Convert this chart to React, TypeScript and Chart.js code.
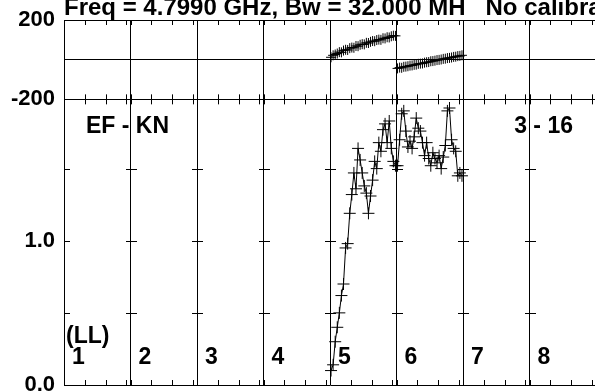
import React, { useEffect, useRef } from 'react';
import { Chart, registerables } from 'chart.js';

Chart.register(...registerables);

// ---- text ----
const TITLE = 'Freq = 4.7990 GHz, Bw = 32.000 MH   No calibra';
const BASELINE_LABEL = 'EF - KN';
const TIME_LABEL = '3 - 16';
const POL_LABEL = '(LL)';
const CHANNEL_LABELS = ['1', '2', '3', '4', '5', '6', '7', '8'];

// ---- axes ----
const CHANNEL_WIDTH_MHZ = 32;
const MINOR_TICK_MHZ = [0, 10, 20, 30];
const PHASE_TICKS = [-200, 0, 200];
const PHASE_TICK_LABELS = ['-200', '', '200'];
const AMP_TICKS = [0, 0.5, 1.0, 1.5];
const AMP_TICK_LABELS = ['0.0', '', '1.0', ''];
const PHASE_MIN = -200;
const PHASE_MAX = 200;
const AMP_MIN = 0;
const AMP_MAX = 1.98;

// ---- data (IF 5 and IF 6, 32 spectral points each) ----
const CH5_INDEX = 4;
const CH6_INDEX = 5;
const CH5_AMP = [
  0.1, 0.14, 0.3, 0.4, 0.5, 0.62, 0.7, 0.95, 0.98, 1.19, 1.32, 1.47, 1.36, 1.64, 1.56, 1.47,
  1.38, 1.33, 1.19, 1.31, 1.42, 1.55, 1.5, 1.68, 1.62, 1.77, 1.81, 1.68, 1.83, 1.64, 1.55, 1.52,
];
const CH6_AMP = [
  1.52, 1.7, 1.88, 1.9, 1.76, 1.65, 1.69, 1.64, 1.72, 1.85, 1.78, 1.76, 1.68, 1.59, 1.68, 1.57,
  1.52, 1.61, 1.57, 1.54, 1.59, 1.5, 1.58, 1.66, 1.9, 1.92, 1.7, 1.64, 1.62, 1.45, 1.47, 1.45,
];
const CH5_PHASE = [
  12, 22, 26, 31, 38, 37, 46, 50, 49, 58, 61, 60, 69, 68, 75, 78,
  77, 85, 84, 90, 94, 93, 99, 101, 100, 108, 107, 113, 112, 118, 121, 120,
];
const CH6_PHASE = [
  -44, -40, -41, -36, -35, -33, -30, -29, -26, -25, -21, -20, -19, -15, -13, -12,
  -8, -7, -5, -2, -1, 1, 4, 5, 8, 9, 11, 14, 15, 18, 19, 22,
];

const FONT_FAMILY = '"Liberation Sans", Arial, Helvetica, sans-serif';

function toPoints(chIndex: number, values: number[]) {
  return values.map((v, i) => ({ x: chIndex * CHANNEL_WIDTH_MHZ + i + 0.5, y: v }));
}

const overlayPlugin = {
  id: 'overlay',
  afterDraw(chart: any) {
    const ctx = chart.ctx as CanvasRenderingContext2D;
    const xs = chart.scales.x;
    const yP = chart.scales.yPhase;
    const yA = chart.scales.yAmp;
    const top = yP.top;
    const mid = yP.bottom;
    const bottom = yA.bottom;
    const nCh = CHANNEL_LABELS.length;
    ctx.save();
    ctx.strokeStyle = '#000';
    ctx.lineWidth = 1;
    ctx.beginPath();
    for (let c = 0; c < nCh; c++) {
      for (const m of MINOR_TICK_MHZ) {
        const px = Math.round(xs.getPixelForValue(c * CHANNEL_WIDTH_MHZ + m)) + 0.5;
        ctx.moveTo(px, top);
        ctx.lineTo(px, top + 5);
        ctx.moveTo(px, mid - 5);
        ctx.lineTo(px, mid + 5);
        ctx.moveTo(px, bottom - 5);
        ctx.lineTo(px, bottom);
      }
    }
    for (const v of AMP_TICKS) {
      if (v === 0) continue;
      const py = Math.round(yA.getPixelForValue(v)) + 0.5;
      for (let c = 0; c < nCh; c++) {
        const px = Math.round(xs.getPixelForValue(c * CHANNEL_WIDTH_MHZ));
        ctx.moveTo(c === 0 ? px : px - 5, py);
        ctx.lineTo(px + 6, py);
      }
    }
    ctx.stroke();

    ctx.fillStyle = '#000';
    ctx.textBaseline = 'alphabetic';
    ctx.textAlign = 'left';
    ctx.font = `bold 24px ${FONT_FAMILY}`;
    ctx.fillText(TITLE, chart.chartArea.left, 15);

    ctx.font = `bold 23px ${FONT_FAMILY}`;
    ctx.fillText(BASELINE_LABEL, chart.chartArea.left + 22, mid + 34);
    ctx.textAlign = 'right';
    ctx.fillText(TIME_LABEL, chart.chartArea.right - 23, mid + 34);
    ctx.textAlign = 'left';
    ctx.fillText(POL_LABEL, chart.chartArea.left + 2, bottom - 42);
    CHANNEL_LABELS.forEach((lab, c) => {
      const px = xs.getPixelForValue(c * CHANNEL_WIDTH_MHZ);
      ctx.fillText(lab, px + 8, bottom - 21);
    });
    ctx.restore();
  },
};

export default function App() {
  const ref = useRef<HTMLCanvasElement | null>(null);

  useEffect(() => {
    if (!ref.current) return;
    const crossStyle = {
      borderColor: '#000',
      borderWidth: 1,
      pointStyle: 'cross' as const,
      pointBorderColor: '#000',
      pointBorderWidth: 1,
      showLine: true,
      tension: 0,
    };
    const tickFont = { family: FONT_FAMILY, size: 22, weight: 'bold' as const };
    const chart = new Chart(ref.current, {
      type: 'scatter',
      data: {
        datasets: [
          { ...crossStyle, pointRadius: 6, data: toPoints(CH5_INDEX, CH5_AMP), xAxisID: 'x', yAxisID: 'yAmp' },
          { ...crossStyle, pointRadius: 6, data: toPoints(CH6_INDEX, CH6_AMP), xAxisID: 'x', yAxisID: 'yAmp' },
          { ...crossStyle, pointRadius: 5, data: toPoints(CH5_INDEX, CH5_PHASE), xAxisID: 'x', yAxisID: 'yPhase' },
          { ...crossStyle, pointRadius: 5, data: toPoints(CH6_INDEX, CH6_PHASE), xAxisID: 'x', yAxisID: 'yPhase' },
        ],
      },
      options: {
        responsive: false,
        animation: false,
        events: [],
        layout: { padding: { top: 20, right: 24, bottom: 4, left: 0 } },
        plugins: { legend: { display: false }, tooltip: { enabled: false }, title: { display: false } },
        scales: {
          x: {
            type: 'linear',
            position: 'bottom',
            min: 0,
            max: CHANNEL_LABELS.length * CHANNEL_WIDTH_MHZ,
            ticks: { display: false, stepSize: CHANNEL_WIDTH_MHZ },
            afterBuildTicks: (s: any) => {
              s.ticks = CHANNEL_LABELS.map((_, c) => ({ value: c * CHANNEL_WIDTH_MHZ })).concat([
                { value: CHANNEL_LABELS.length * CHANNEL_WIDTH_MHZ },
              ]);
            },
            afterFit: (s: any) => {
              s.height = 0;
              s.paddingLeft = 0;
              s.paddingRight = 0;
            },
            grid: { color: '#000', lineWidth: 1, drawTicks: false },
            border: { display: true, color: '#000', width: 1 },
          },
          yAmp: {
            type: 'linear',
            position: 'left',
            stack: 'panels',
            stackWeight: 288,
            min: AMP_MIN,
            max: AMP_MAX,
            afterBuildTicks: (s: any) => {
              s.ticks = AMP_TICKS.map((v) => ({ value: v }));
            },
            afterFit: (s: any) => {
              s.width = 64;
              s.paddingTop = 0;
              s.paddingBottom = 0;
            },
            ticks: {
              autoSkip: false,
              padding: 9,
              color: '#000',
              font: tickFont,
              callback: (v: any) => AMP_TICK_LABELS[AMP_TICKS.indexOf(Number(v))] ?? '',
            },
            grid: { display: false, drawTicks: false },
            border: { display: true, color: '#000', width: 1 },
          },
          yPhase: {
            type: 'linear',
            position: 'left',
            stack: 'panels',
            stackWeight: 80,
            min: PHASE_MIN,
            max: PHASE_MAX,
            afterBuildTicks: (s: any) => {
              s.ticks = PHASE_TICKS.map((v) => ({ value: v }));
            },
            afterFit: (s: any) => {
              s.width = 64;
              s.paddingTop = 0;
              s.paddingBottom = 0;
            },
            ticks: {
              autoSkip: false,
              padding: 9,
              color: '#000',
              font: tickFont,
              callback: (v: any) => PHASE_TICK_LABELS[PHASE_TICKS.indexOf(Number(v))] ?? '',
            },
            grid: { color: '#000', lineWidth: 1, drawTicks: false },
            border: { display: true, color: '#000', width: 1 },
          },
        },
      },
      plugins: [overlayPlugin],
    } as any);
    return () => chart.destroy();
  }, []);

  return (
    <div
      style={{
        position: 'fixed',
        left: 0,
        top: 0,
        width: 595,
        height: 392,
        overflow: 'hidden',
        background: '#fff',
      }}
    >
      <canvas ref={ref} width={620} height={392} style={{ display: 'block', width: 620, height: 392 }} />
    </div>
  );
}
